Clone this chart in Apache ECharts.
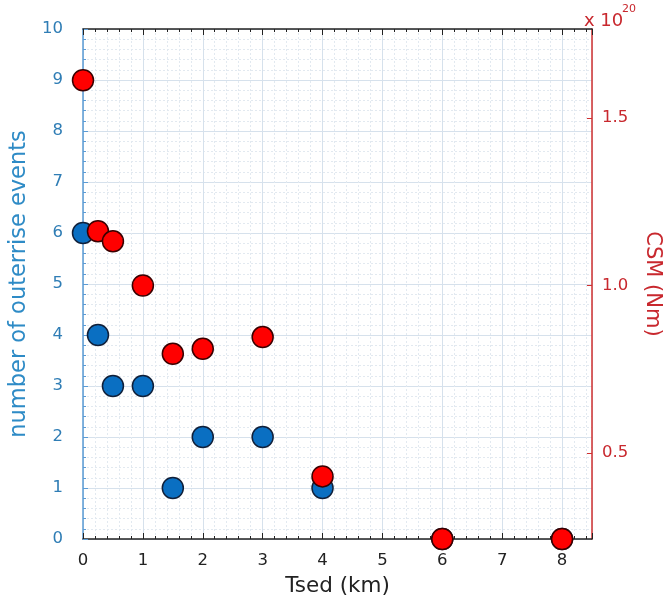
<!DOCTYPE html>
<html><head><meta charset="utf-8">
<script src="https://cdn.jsdelivr.net/npm/echarts@6/dist/echarts.min.js"></script>
<style>html,body{margin:0;padding:0;background:#fff}#c{width:665px;height:601px}</style>
</head><body><div id="c"></div>
<script>
// Data
const tsed = [0, 0.25, 0.5, 1, 1.5, 2, 3, 4, 6, 8];
const outerriseEvents = [6, 4, 3, 3, 1, 2, 2, 1, 0, 0];
const csm = [1.613, 1.162, 1.132, 1.0, 0.796, 0.811, 0.846, 0.43, 0.243, 0.243]; // x 1e20 Nm
const rightTicks = [0.5, 1.0, 1.5];

const FONT = 'DejaVu Sans';
const BLUE_TXT = '#2F7DB5';
const BLUE_TITLE = '#2E8BC6';
const BLUE_LINE = '#5B9BD5';
const RED_TXT = '#C8282E';
const RED_LINE = '#D03030';
const GRID = '#D6E1EC';
const MINOR = '#E2E9F0';

const chart = echarts.init(document.getElementById('c'), null, {renderer: 'canvas'});

const blueData = tsed.map((x, i) => [x, outerriseEvents[i]]);
const redData = tsed.map((x, i) => [x, csm[i]]);

chart.setOption({
  animation: false,
  backgroundColor: '#fff',
  grid: {left: 83, right: 73, top: 29, bottom: 62, containLabel: false, outerBoundsMode: 'none'},
  xAxis: [{
    type: 'value', position: 'bottom', min: 0, max: 8.5, interval: 1,
    name: 'Tsed (km)', nameLocation: 'middle', nameGap: 36,
    nameTextStyle: {fontFamily: FONT, fontSize: 21.5, color: '#222'},
    axisLine: {show: true, onZero: false, lineStyle: {color: '#222', width: 1.5}},
    axisTick: {show: true, inside: true, length: 6, lineStyle: {color: '#222'}},
    minorTick: {show: true, splitNumber: 5, length: 3, lineStyle: {color: '#222'}},
    axisLabel: {fontFamily: FONT, fontSize: 16.5, color: '#222', margin: 13,
      formatter: v => (Number.isInteger(v) ? String(v) : '')},
    splitLine: {show: true, lineStyle: {color: GRID, width: 1}},
    minorSplitLine: {show: true, lineStyle: {color: MINOR, type: [2, 2], width: 1}}
  }, {
    type: 'value', position: 'top', min: 0, max: 8.5, interval: 1,
    axisLine: {show: true, onZero: false, lineStyle: {color: '#222', width: 1.5}},
    axisTick: {show: true, inside: true, length: 6, lineStyle: {color: '#222'}},
    minorTick: {show: true, splitNumber: 5, length: 3, lineStyle: {color: '#222'}},
    axisLabel: {show: false},
    splitLine: {show: false}
  }],
  yAxis: [{
    type: 'value', position: 'left', min: 0, max: 10, interval: 1,
    name: 'number of outerrise events', nameLocation: 'middle', nameGap: 50, nameRotate: 90,
    nameTextStyle: {fontFamily: FONT, fontSize: 22.5, color: BLUE_TITLE},
    axisLine: {show: true, onZero: false, lineStyle: {color: BLUE_LINE, width: 1.5}},
    axisTick: {show: true, inside: true, length: 5, lineStyle: {color: BLUE_LINE}},
    minorTick: {show: true, splitNumber: 5, length: 3, lineStyle: {color: BLUE_LINE}},
    axisLabel: {fontFamily: FONT, fontSize: 16.5, color: BLUE_TXT, margin: 20},
    splitLine: {show: true, lineStyle: {color: GRID, width: 1}},
    minorSplitLine: {show: true, lineStyle: {color: MINOR, type: [2, 2], width: 1}}
  }, {
    type: 'value', position: 'right', min: 0.243, max: 1.766,
    name: 'CSM (Nm)', nameLocation: 'middle', nameGap: 50, nameRotate: -90,
    nameTextStyle: {fontFamily: FONT, fontSize: 21, color: RED_TXT},
    axisLine: {show: true, onZero: false, lineStyle: {color: RED_LINE, width: 1.5}},
    axisTick: {show: true, inside: true, length: 5, customValues: rightTicks, lineStyle: {color: RED_LINE}},
    axisLabel: {fontFamily: FONT, fontSize: 16.5, color: RED_TXT, margin: 10,
      customValues: rightTicks, formatter: v => v.toFixed(1)},
    splitLine: {show: false}
  }],
  graphic: [
    {type: 'text', left: 584, top: 12, z: 100,
      style: {text: 'x 10', fontFamily: FONT, fontSize: 18, fill: RED_TXT}},
    {type: 'text', left: 622, top: 4, z: 100,
      style: {text: '20', fontFamily: FONT, fontSize: 11, fill: RED_TXT}}
  ],
  series: [{
    type: 'scatter', xAxisIndex: 0, yAxisIndex: 0, data: blueData, clip: false,
    symbolSize: 21, z: 3,
    itemStyle: {color: '#0A6FC2', borderColor: '#10203A', borderWidth: 1.5, opacity: 1}
  }, {
    type: 'scatter', xAxisIndex: 0, yAxisIndex: 1, data: redData, clip: false,
    symbolSize: 21, z: 4,
    itemStyle: {color: '#FF0000', borderColor: '#3A0000', borderWidth: 1.5, opacity: 1}
  }]
});
</script>
</body></html>
